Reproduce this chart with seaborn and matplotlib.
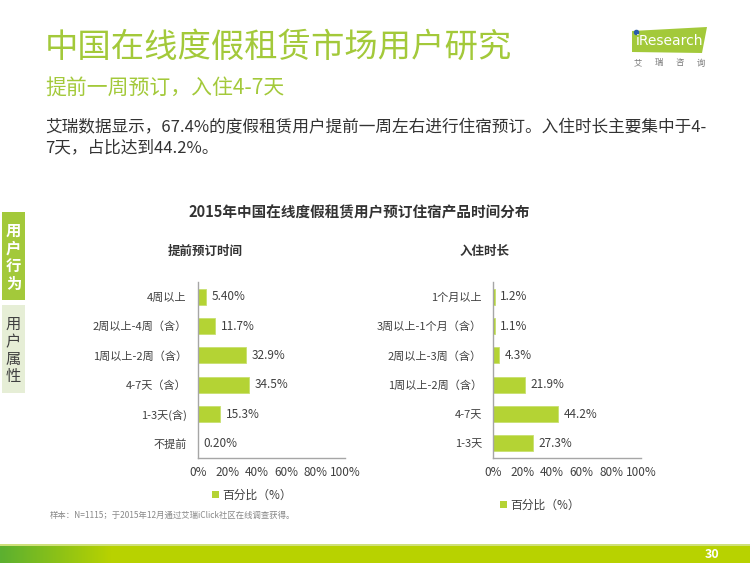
import numpy as np
import pandas as pd
import matplotlib
matplotlib.use("Agg")
import matplotlib.pyplot as plt
from matplotlib.patches import Rectangle, Polygon, Patch
import seaborn as sns

# data
booking_cats = ["4周以上", "2周以上-4周（含）", "1周以上-2周（含）", "4-7天（含）", "1-3天(含)", "不提前"]
booking_vals = [5.4, 11.7, 32.9, 34.5, 15.3, 0.2]
booking_labels = ["5.40%", "11.7%", "32.9%", "34.5%", "15.3%", "0.20%"]

stay_cats = ["1个月以上", "3周以上-1个月（含）", "2周以上-3周（含）", "1周以上-2周（含）", "4-7天", "1-3天"]
stay_vals = [1.2, 1.1, 4.3, 21.9, 44.2, 27.3]
stay_labels = ["1.2%", "1.1%", "4.3%", "21.9%", "44.2%", "27.3%"]

x_ticks = [0, 20, 40, 60, 80, 100]
x_tick_labels = ["0%", "20%", "40%", "60%", "80%", "100%"]

GREEN = "#a3c93a"
BAR = "#b4d334"
DARK = "#404040"

sns.set_style("white")
plt.rcParams['font.family'] = ['Noto Sans CJK SC', 'DejaVu Sans']

W, H = 750, 563
fig = plt.figure(figsize=(7.5, 5.63), dpi=100)

# background axes in pixel coordinates
bg = fig.add_axes([0, 0, 1, 1])
bg.set_xlim(0, W)
bg.set_ylim(H, 0)
bg.axis("off")

# headings
bg.text(45, 47, "中国在线度假租赁市场用户研究", fontsize=24, color=GREEN, va="center")
bg.text(45, 88, "提前一周预订，入住4-7天", fontsize=15, color=GREEN, va="center")
bg.text(45, 128, "艾瑞数据显示，67.4%的度假租赁用户提前一周左右进行住宿预订。入住时长主要集中于4-",
        fontsize=12, color="#333333", va="center")
bg.text(45, 148, "7天，占比达到44.2%。", fontsize=12, color="#333333", va="center")

# logo
bg.add_patch(Polygon([(632, 31), (707, 27), (702, 53), (632, 52)], closed=True,
                     facecolor=GREEN, edgecolor="none"))
bg.text(636, 41, "iResearch", fontsize=10, color="white", va="center", family="DejaVu Sans")
bg.plot([635.5], [31.5], marker="o", markersize=3, color="#2a5caa")
for i, ch in enumerate("艾瑞咨询"):
    bg.text(638 + i * 21, 63, ch, fontsize=6, color="#777777", va="center", ha="center")

# side tabs
bg.add_patch(Rectangle((2, 212), 23, 88, facecolor=GREEN, edgecolor="none"))
bg.add_patch(Rectangle((2, 305), 23, 88, facecolor="#e6eed6", edgecolor="none"))
for i, ch in enumerate("用户行为"):
    bg.text(13.5, 231 + i * 17.5, ch, fontsize=11, color="white", fontweight="bold",
            ha="center", va="center")
for i, ch in enumerate("用户属性"):
    bg.text(13.5, 324 + i * 17.5, ch, fontsize=11, color=DARK, ha="center", va="center")

# chart title
bg.text(359, 212, "2015年中国在线度假租赁用户预订住宿产品时间分布", fontsize=10.5,
        fontweight="bold", color="#333333", ha="center", va="center")
bg.text(205, 251, "提前预订时间", fontsize=9, fontweight="bold", color="#333333",
        ha="center", va="center")
bg.text(485, 251, "入住时长", fontsize=9, fontweight="bold", color="#333333",
        ha="center", va="center")

# footnote
bg.text(50, 515, "样本：N=1115；于2015年12月通过艾瑞iClick社区在线调查获得。",
        fontsize=6, color="#888888", va="center")

# bottom band with gradient
grad = np.linspace(0, 1, 300)
c0 = np.array(matplotlib.colors.to_rgb("#5cb030"))
c1 = np.array(matplotlib.colors.to_rgb("#b8d200"))
t = np.clip(grad * 750 / 110, 0, 1)[None, :, None]
img = c0 * (1 - t) + c1 * t
bg.imshow(img, extent=(0, W, H, 545), aspect="auto", zorder=1)
bg.add_patch(Rectangle((0, 544), W, 1.5, facecolor="#cfe07a", edgecolor="none", zorder=2))
bg.text(712, 555, "30", fontsize=9, color="white", fontweight="bold",
        ha="center", va="center", zorder=3)
bg.set_xlim(0, W)
bg.set_ylim(H, 0)


def draw_panel(rect, cats, vals, labels, pad):
    ax = fig.add_axes(rect)
    df = pd.DataFrame({"cat": cats, "val": vals})
    sns.barplot(data=df, x="val", y="cat", orient="h", color=BAR, width=0.55,
                saturation=1, edgecolor="#c8e070", linewidth=0.6, ax=ax)
    ax.bar_label(ax.containers[0], labels=labels, padding=4, fontsize=8.5, color=DARK)
    ax.set_xlim(0, 100)
    ax.set_xticks(x_ticks)
    ax.set_xticklabels(x_tick_labels)
    ax.set_xlabel("")
    ax.set_ylabel("")
    ax.tick_params(axis="x", length=0, pad=6, labelsize=8.5, labelcolor=DARK)
    ax.tick_params(axis="y", length=0, pad=pad, labelsize=8, labelcolor=DARK)
    for side in ["top", "right"]:
        ax.spines[side].set_visible(False)
    for side in ["left", "bottom"]:
        ax.spines[side].set_color("#a6a6a6")
        ax.spines[side].set_linewidth(1)
    ax.patch.set_alpha(0)
    return ax


ax1 = draw_panel([198 / W, (H - 458) / H, 147 / W, 176 / H],
                 booking_cats, booking_vals, booking_labels, 8)
ax2 = draw_panel([493 / W, (H - 458) / H, 148 / W, 176 / H],
                 stay_cats, stay_vals, stay_labels, 8)

handle = [Patch(facecolor=BAR, edgecolor="none")]
fig.legend(handles=handle, labels=["百分比（%）"], loc="center",
           bbox_to_anchor=(252 / W, 1 - 495 / H), frameon=False, fontsize=8.5,
           handlelength=0.6, handleheight=0.6, handletextpad=0.3, labelcolor=DARK)
fig.legend(handles=handle, labels=["百分比（%）"], loc="center",
           bbox_to_anchor=(540 / W, 1 - 505 / H), frameon=False, fontsize=8.5,
           handlelength=0.6, handleheight=0.6, handletextpad=0.3, labelcolor=DARK)

fig.savefig("out.png", dpi=100)
